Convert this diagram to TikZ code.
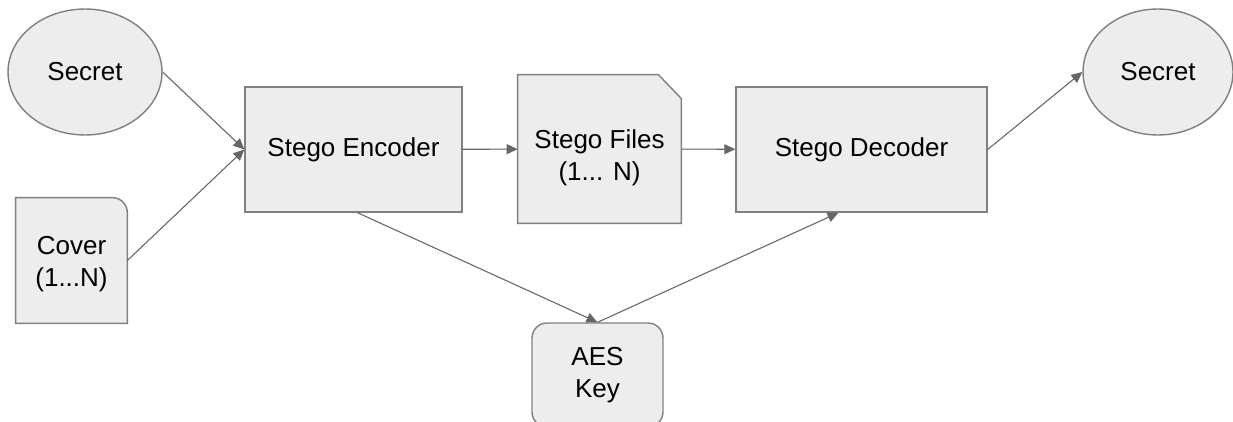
\documentclass[tikz,border=0pt]{standalone}
\usepackage{fontspec}
\setmainfont{Liberation Sans}
\usepackage{tikz}
\usetikzlibrary{arrows.meta,backgrounds,positioning,shapes.geometric}
\definecolor{box-gray}{gray}{0.93}
\definecolor{edge-gray}{gray}{0.5}
\definecolor{arrow-gray}{gray}{0.4}
\tikzset{
	block/.style={draw=edge-gray, fill=box-gray, line width=0.8pt, align=center, inner sep=0pt},
	flow/.style={-{Triangle[length=0.22cm,width=0.2cm]}, draw=arrow-gray, fill=arrow-gray, line width=0.6pt}
}

\begin{document}
\begin{tikzpicture}[x=0.02cm, y=-0.02cm, font=\fontsize{14.8}{18.2}\selectfont]
	\useasboundingbox (0,0) rectangle (1233,422);

	\node (secret) at (85,72) [block, ellipse, minimum width=3.08cm, minimum height=2.52cm] {Secret};
	\node (cover) at (71.5,260.5) [inner sep=0pt, minimum width=2.22cm, minimum height=2.5cm, label={[align=center, yshift=-0.08cm]center:Cover\\(1...N)}] {};
	\node (enc) at (353.5,149.5) [block, minimum width=4.34cm, minimum height=2.5cm] {Stego Encoder};
	\node (files) at (599.5,149) [inner sep=0pt, minimum width=3.26cm, minimum height=2.96cm, label={[align=center, yshift=-0.18cm]center:Stego Files\\(1... N)}] {};
	\node (dec) at (861.5,149.5) [block, minimum width=5.02cm, minimum height=2.5cm] {Stego Decoder};
	\node (secretb) at (1158,72) [block, ellipse, minimum width=3cm, minimum height=2.52cm] {Secret};
	\node (key) at (597.5,375) [block, rounded corners=0.3cm, minimum width=2.62cm, minimum height=2.08cm] {AES\\Key};

	\begin{scope}[on background layer]
		\draw[block] (cover.south west) -- (cover.north west) -- ([xshift=-0.3cm]cover.north east) arc[start angle=90, end angle=0, radius=0.3cm] -- (cover.south east) -- cycle;
		\draw[block] (files.south west) -- (files.north west) -- ([xshift=-0.46cm]files.north east) -- ([yshift=-0.48cm]files.north east) -- (files.south east) -- cycle;
	\end{scope}

	\draw[flow] (secret.east) -- (enc.west);
	\draw[flow] (cover.east) -- (enc.west);
	\draw[flow] (enc) -- (files);
	\draw[flow] (files) -- (dec);
	\draw[flow] (dec.east) -- (secretb.west);
	\draw[flow] ([xshift=0.08cm]enc.south) -- (key.north);
	\draw[flow] (key.north) -- ([xshift=-0.46cm]dec.south);

\end{tikzpicture}
\end{document}
